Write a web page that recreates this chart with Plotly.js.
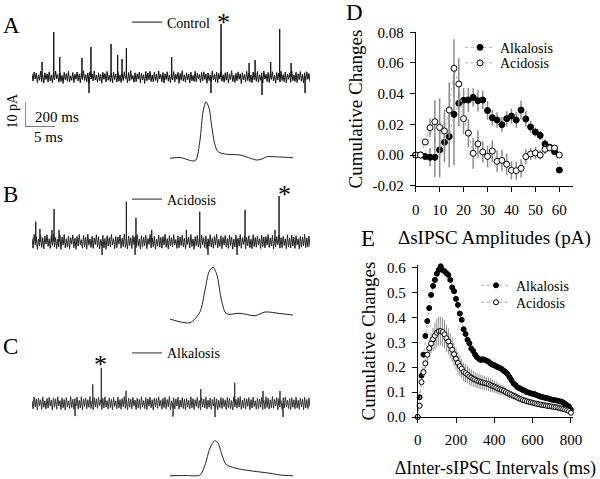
<!DOCTYPE html>
<html><head><meta charset="utf-8">
<script src="https://cdn.plot.ly/plotly-3.0.1.min.js"></script>
<style>html,body{margin:0;padding:0;background:#fff;}#chart{width:600px;height:479px;}</style>
</head><body><div id="chart"></div>
<script>
// ================= DATA =================
// Panel D: cumulative changes vs ΔsIPSC amplitude (pA)
const dAmp = [0,2,4,6,8,10,12,14,16,18,20,22,24,26,28,30,32,34,36,38,40,42,44,46,48,50,52,54,56,58,60];
const dAlk = [0,0,-0.001,-0.0015,-0.0015,0.0033,0.0083,0.012,0.0265,0.0337,0.0357,0.0359,0.0376,0.0354,0.0359,0.029,0.0243,0.0228,0.0198,0.0237,0.0254,0.0228,0.0293,0.0235,0.0183,0.015,0.0128,0.0072,0.005,0.0022,-0.0098];
const dAlkErr = [0,0,0.001,0.006,0.013,0.018,0.013,0.02,0.033,0.015,0.008,0.008,0.006,0.007,0.006,0.006,0.005,0.005,0.005,0.005,0.005,0.005,0.006,0.005,0.004,0.003,0.003,0.003,0.002,0.002,0];
const dAcid = [0,0,0.0085,0.0178,0.0217,0.018,0.0157,0.0293,0.0565,0.0463,0.0237,0.0143,0.0011,0.0072,0.002,-0.0009,0.0026,-0.0041,-0.0035,-0.006,-0.01,-0.0102,-0.0087,-0.001,0.0007,0.0013,0,0.0037,0.0046,0.0046,0];
const dAcidErr = [0,0,0,0.006,0.014,0.019,0.014,0.018,0.019,0.017,0.01,0.009,0.01,0.009,0.007,0.007,0.007,0.007,0.007,0.007,0.006,0.006,0.006,0.005,0.004,0.004,0.003,0.003,0.002,0.002,0];
const dXTicks = [0,10,20,30,40,50,60];
const dYTicks = [-0.02,0,0.02,0.04,0.06,0.08];
const dYTickText = ['-0.02','0.00','0.02','0.04','0.06','0.08'];

// Panel E: cumulative changes vs ΔInter-sIPSC interval (ms)
const eInt = [0,10,20,30,40,50,60,70,80,90,100,110,120,130,140,150,160,170,180,190,200,210,220,230,240,250,260,270,280,290,300,310,320,330,340,350,360,370,380,390,400,410,420,430,440,450,460,470,480,490,500,510,520,530,540,550,560,570,580,590,600,610,620,630,640,650,660,670,680,690,700,710,720,730,740,750,760,770,780,790,800];
const eAlk = [0,0.079,0.166,0.25,0.325,0.385,0.437,0.49,0.526,0.55,0.575,0.59,0.605,0.59,0.585,0.577,0.57,0.55,0.52,0.505,0.474,0.45,0.415,0.39,0.352,0.333,0.31,0.296,0.275,0.265,0.25,0.24,0.233,0.229,0.232,0.229,0.226,0.222,0.215,0.21,0.208,0.203,0.2,0.196,0.192,0.185,0.18,0.172,0.16,0.148,0.135,0.128,0.12,0.116,0.112,0.108,0.105,0.1,0.098,0.095,0.093,0.092,0.088,0.085,0.082,0.08,0.078,0.076,0.075,0.072,0.07,0.068,0.067,0.065,0.063,0.062,0.058,0.052,0.047,0.042,0.03];
const eAcid = [0,0.045,0.14,0.18,0.215,0.25,0.276,0.295,0.312,0.326,0.338,0.344,0.345,0.341,0.332,0.316,0.303,0.286,0.27,0.252,0.234,0.217,0.204,0.194,0.181,0.176,0.17,0.163,0.158,0.153,0.15,0.146,0.143,0.14,0.138,0.136,0.134,0.132,0.128,0.125,0.122,0.118,0.114,0.111,0.108,0.105,0.1,0.096,0.092,0.089,0.085,0.082,0.078,0.074,0.071,0.068,0.066,0.063,0.061,0.059,0.057,0.055,0.053,0.051,0.05,0.048,0.047,0.046,0.044,0.043,0.042,0.04,0.039,0.038,0.036,0.034,0.032,0.03,0.027,0.024,0.017];
const eAcidErr = [0,0.005,0.01,0.015,0.02,0.028,0.034,0.04,0.046,0.052,0.056,0.058,0.058,0.058,0.057,0.055,0.053,0.051,0.049,0.047,0.045,0.043,0.041,0.039,0.037,0.036,0.035,0.034,0.033,0.032,0.031,0.03,0.03,0.029,0.029,0.028,0.028,0.027,0.027,0.026,0.025,0.024,0.023,0.022,0.021,0.02,0.019,0.018,0.017,0.016,0.015,0.014,0.013,0.012,0.011,0.01,0.009,0.009,0.008,0.008,0.008,0.007,0.007,0.006,0.006,0.006,0.005,0.005,0.005,0.005,0.005,0.004,0.004,0.004,0.004,0.004,0.003,0.003,0.003,0.003,0.003];
const eXTicks = [0,200,400,600,800];
const eYTicks = [0,0.1,0.2,0.3,0.4,0.5,0.6];
const eYTickText = ['0.0','0.1','0.2','0.3','0.4','0.5','0.6'];
const seriesNames = ['Alkalosis','Acidosis'];

// Panels A-C: recordings (pA) over ~1853 ms; baseline noise samples + events
const traceNames = ['Control','Acidosis','Alkalosis'];
const recDuration = 1853; // ms
const noiseA = [1.2,-1.6,2.0,-0.8,1.5,-2.2,0.9,-1.3,2.3,-1.9,0.6,-2.4,1.7,-1.0,1.3,-2.0,2.1,-1.5,0.8,-2.3,
1.8,-1.2,2.4,-0.7,1.0,-2.1,1.6,-1.8,0.7,-2.6,1.9,-1.1,1.4,-1.7,2.2,-2.0,0.5,-1.3,1.8,-2.2,
1.1,-0.9,2.0,-1.6,1.2,-2.3,1.5,-1.0,2.5,-1.4,0.9,-1.9,1.6,-2.4,2.1,-0.8,1.3,-1.6,2.4,-1.2,
0.8,-2.1,1.7,-1.5,1.0,-2.5,1.9,-0.9,1.4,-2.0,2.2,-1.3,0.7,-1.8,1.6,-2.3,2.0,-1.1,1.2,-2.0,
2.3,-1.7,0.9,-2.2,1.5,-1.4,2.1,-0.8,1.1,-2.4,1.8,-1.6,2.5,-1.0,0.6,-2.1,1.7,-1.9,1.3,-0.9,
2.0,-2.3,1.4,-1.2,0.9,-2.6,2.2,-1.5,1.6,-1.1,2.3,-1.8,0.8,-2.0,1.9,-1.4,1.2,-2.2,2.4,-0.7,
1.0,-1.9,1.8,-2.4,1.3,-1.0,2.1,-1.7,0.7,-2.3,1.6,-1.2,2.2,-2.0,1.1,-0.9,1.9,-2.5,1.4,-1.3,
2.5,-1.6,0.9,-2.1,1.7,-1.1,1.2,-2.4,2.0,-1.5,0.6,-1.8,2.3,-1.9,1.5,-0.8,1.0,-2.2,1.8,-1.6,
2.1,-1.0,1.3,-2.5,1.6,-1.4,0.8,-2.0,2.4,-1.2,1.1,-1.9,1.9,-2.3,1.4,-0.7,2.2,-1.7,0.9,-2.1,
1.7,-1.3,2.0,-2.4,1.2,-1.0,2.5,-1.8,0.7,-2.2,1.5,-1.5,2.1,-0.9,1.3,-2.6,1.8,-1.2,1.0,-2.0,
2.3,-1.4,1.6,-1.9,0.8,-2.3,2.0,-1.1,1.4,-1.7,2.2,-2.1,0.9,-1.3,1.7,-2.4,2.4,-0.8,1.1,-1.8,
1.9,-2.2,1.3,-1.0,2.1,-1.6,0.7,-2.5,1.8,-1.2,1.5,-2.0,2.3,-1.4,1.0,-1.9,2.0,-2.3,1.2,-0.9,
1.6,-2.1,2.4,-1.5,0.8,-1.8,1.9,-2.2,1.3,-1.1,2.2,-1.7,1.0,-2.4,1.7,-1.3,2.1,-0.9,1.4,-2.0];
const noiseB = [1.5,-2.6,2.9,-1.2,2.0,-3.0,1.1,-1.8,2.7,-2.3,1.6,-2.9,2.2,-1.0,2.8,-1.9,1.2,-2.7,2.4,-1.5,
3.0,-2.2,1.7,-2.8,1.0,-2.0,2.6,-3.1,1.9,-1.3,2.9,-2.5,1.2,-2.1,2.3,-2.8,1.6,-0.9,2.7,-2.4,
1.4,-3.0,2.1,-1.7,2.9,-1.2,0.8,-2.6,2.5,-2.0,1.8,-2.9,3.0,-1.4,1.1,-2.3,2.2,-2.7,1.5,-1.1,
2.8,-2.2,2.0,-2.9,0.9,-1.6,2.6,-2.5,1.3,-3.0,2.4,-1.8,1.7,-2.1,2.9,-1.3,1.2,-2.8,2.1,-2.4,
1.9,-1.0,2.7,-2.6,1.4,-1.9,3.0,-2.3,1.0,-2.9,2.3,-1.5,1.6,-2.7,2.5,-1.2,2.0,-2.4,2.8,-1.7,
1.1,-2.9,2.4,-2.1,1.8,-1.6,2.6,-2.8,1.3,-1.1,2.9,-2.5,1.5,-2.0,2.2,-3.0,1.0,-1.7,2.7,-2.2,
1.7,-2.6,2.1,-1.4,3.0,-2.3,1.2,-2.9,2.4,-1.8,1.6,-2.1,2.8,-1.3,0.9,-2.7,2.3,-2.4,1.9,-1.5,
2.6,-2.0,1.4,-2.8,2.2,-1.1,1.8,-2.5,2.9,-1.9,1.1,-3.0,2.0,-1.6,2.5,-2.2,1.3,-2.6,2.7,-1.2,
1.6,-2.4,2.3,-2.9,1.2,-1.7,2.8,-2.1,1.5,-2.6,2.1,-1.4,3.0,-2.5,1.0,-1.9,2.4,-2.8,1.7,-1.3,
2.5,-2.2,1.3,-2.7,2.6,-1.5,1.9,-3.0,1.1,-2.0,2.7,-2.3,1.4,-1.8,2.9,-2.6,1.6,-1.1,2.2,-2.9,
1.8,-1.6,2.4,-2.4,1.0,-2.8,2.8,-1.9,1.7,-2.2,2.3,-1.3,1.2,-2.7,2.6,-2.0,1.9,-2.5,2.1,-1.4,
2.9,-2.3,1.5,-1.7,2.5,-2.9,1.3,-2.1,2.0,-1.2,2.7,-2.6,1.6,-2.4,2.2,-1.5,1.1,-2.8,2.8,-2.0,
1.4,-2.5,2.6,-1.8,1.9,-2.7,2.4,-1.3,1.2,-2.9,2.1,-2.2,1.8,-1.6,2.9,-2.4,1.5,-2.1,2.3,-1.9];
const noiseC = [1.0,-2.2,2.5,-1.4,1.7,-2.6,2.1,-0.9,1.4,-2.4,2.6,-1.6,0.9,-2.3,2.0,-1.9,2.4,-1.1,1.3,-2.7,
2.2,-1.5,1.8,-2.4,2.6,-1.0,1.1,-2.5,2.2,-1.8,1.5,-2.7,2.3,-1.3,1.0,-2.1,2.7,-1.7,1.6,-2.4,
1.9,-1.1,2.5,-2.3,1.2,-1.9,2.6,-2.6,1.7,-1.2,2.1,-2.2,1.4,-1.6,2.7,-2.1,0.9,-2.6,2.3,-1.4,
1.8,-2.0,2.4,-1.0,1.3,-2.5,2.0,-1.9,2.6,-1.5,1.1,-2.3,2.2,-1.7,1.6,-2.6,2.4,-1.2,1.0,-2.2,
2.5,-1.8,1.5,-2.4,1.9,-1.3,2.7,-2.0,1.2,-2.6,2.1,-1.6,1.7,-2.2,2.4,-1.0,1.3,-2.5,2.0,-1.9,
1.6,-2.3,2.6,-1.4,1.1,-2.1,2.3,-2.5,1.8,-1.1,2.5,-1.8,1.4,-2.7,2.1,-1.5,1.9,-2.0,2.6,-1.2,
1.2,-2.4,2.0,-1.7,2.4,-2.2,1.5,-1.3,2.7,-2.6,1.0,-1.9,2.2,-2.3,1.7,-1.1,2.5,-2.4,1.3,-1.6,
2.3,-2.1,1.6,-2.6,2.0,-1.4,1.2,-2.2,2.6,-1.8,1.9,-2.5,1.4,-1.2,2.4,-2.0,1.1,-2.7,2.2,-1.5,
1.7,-1.9,2.6,-2.3,1.3,-1.6,2.1,-2.4,1.5,-1.0,2.5,-2.2,1.8,-2.6,1.2,-1.7,2.3,-2.1,2.0,-1.3,
1.4,-2.5,2.4,-1.8,1.9,-2.2,1.1,-2.7,2.6,-1.4,1.6,-2.0,2.2,-1.5,2.7,-2.4,1.3,-1.9,2.1,-2.3,
1.8,-1.2,2.3,-2.6,1.5,-1.9,2.5,-1.3,1.0,-2.4,2.0,-2.1,1.7,-1.6,2.4,-2.5,1.2,-2.2,2.6,-1.7,
2.1,-2.3,1.4,-1.8,2.7,-2.0,1.6,-1.1,2.3,-2.6,1.9,-1.5,1.1,-2.4,2.2,-1.9,2.5,-1.4,1.3,-2.1,
1.9,-2.5,2.2,-1.6,1.4,-2.2,2.5,-1.8,1.2,-2.4,2.0,-1.3,1.7,-2.6,2.4,-1.9,1.5,-2.1,2.1,-1.4];
// events: time (ms) and peak (pA); negative = downward deflection
const eventTA = [67,145,185,333,380,393,527,571,600,629,931,1193,1260,1447,1487,1533,1591,1651,1727,1820];
const eventPA = [6.0,18.0,8.0,7.6,-6.4,12.0,13.2,8.8,7.2,11.6,8.0,-6.4,21.2,5.6,6.8,-7.2,6.0,19.2,5.6,-6.4];
const markedA = 12;
const eventTB = [25,53,133,147,180,467,629,687,693,798,1029,1118,1173,1367,1420,1620,1647];
const eventPB = [8.0,5.1,4.7,13.1,4.7,-5.3,16.0,-5.3,9.6,4.7,4.7,12.0,-5.3,-5.3,12.7,4.7,18.3];
const markedB = 16;
const eventTC = [287,405,462,627,940,1125,1220,1351,1540,1653,1673];
const eventPC = [-5.1,7.6,14.2,5.0,-5.3,5.7,-5.5,8.2,4.9,4.9,-5.5];
const markedC = 2;
// averaged single events (insets): time (ms), current (pA)
const insetTA = [0,1.67,3.83,4.33,5.0,5.5,6.0,6.5,7.0,7.5,8.0,9.45,11.67,14.45,15.33,16.1,18.3,20.5];
const insetPA = [-0.1,0.2,-1.2,-0.8,7.2,18.4,22.5,20,12,5.2,2.5,1.5,1.2,-0.8,-0.4,0.5,0.4,0.1];
const insetTB = [0,3.33,5,5.83,6.5,7.17,7.83,8.5,9.17,9.67,11.67,14.17,15.83,18.33,20.5];
const insetPB = [-1.2,-2.7,1.7,10.4,17.6,19.5,16.4,7.2,1.6,0.7,1.1,0.1,1.6,1.0,0.4];
const insetTC = [0,2.5,5,5.83,6.67,7.45,8,8.67,9.33,10.83,12.5,15,16.67,18.33,20.5];
const insetPC = [-0.1,0,0.2,4.2,11,13.9,13,8.2,4.5,3.0,2.2,1.4,0.9,0.2,-0.1];
// scale bar: 200 ms (recording) / 5 ms (inset) by 10 pA
const scaleBarT = [0,0,200];
const scaleBarP = [10,0,0];

// ================= LAYOUT HELPERS =================
const W = 600, H = 479;
const SERIF = 'Liberation Serif';
const xdom = (a,b) => [a/W, b/W];
const ydom = (top,bot) => [1-bot/H, 1-top/H];
const PX_PER_PA = 2.5;
function yBox(top, bot, basePx){
  return {domain: ydom(top,bot), range:[-(bot-basePx)/PX_PER_PA, (basePx-top)/PX_PER_PA]};
}
function hidden(o, anchor){ return Object.assign({visible:false, fixedrange:true, anchor:anchor, showgrid:false, zeroline:false}, o); }

function buildRecording(noise, evT, evP){
  const pts = [];
  const n = noise.length;
  for (let i=0;i<n;i++) pts.push([i*recDuration/(n-1), noise[i], 0]);
  for (let k=0;k<evT.length;k++){
    pts.push([evT[k], 0, 1]); pts.push([evT[k], evP[k], 2]); pts.push([evT[k], 0, 3]);
  }
  pts.sort((a,b)=> a[0]-b[0] || a[2]-b[2]);
  return {x: pts.map(p=>p[0]), y: pts.map(p=>p[1])};
}

const traces = [];
// ---- Panel D ----
const lineDot = {color:'#b0b0b0', width:1, dash:'dot'};
traces.push({x:dAmp, y:dAlk, name:seriesNames[0], mode:'lines+markers', xaxis:'x', yaxis:'y', legend:'legend', cliponaxis:false,
  line:lineDot, marker:{size:6, color:'#000', line:{color:'#000', width:1}},
  error_y:{type:'data', array:dAlkErr, visible:true, color:'#8c8c8c', thickness:1.5, width:0}});
traces.push({x:dAmp, y:dAcid, name:seriesNames[1], mode:'lines+markers', xaxis:'x', yaxis:'y', legend:'legend2', cliponaxis:false,
  line:lineDot, marker:{size:6, color:'#fff', line:{color:'#000', width:1}},
  error_y:{type:'data', array:dAcidErr, visible:true, color:'#8c8c8c', thickness:1.5, width:0}});
// ---- Panel E ----
traces.push({x:eInt, y:eAlk, name:seriesNames[0], mode:'lines+markers', xaxis:'x2', yaxis:'y2', legend:'legend3', cliponaxis:false,
  line:lineDot, marker:{size:5, color:'#000', line:{color:'#000', width:1}}});
traces.push({x:eInt, y:eAcid, name:seriesNames[1], mode:'lines+markers', xaxis:'x2', yaxis:'y2', legend:'legend4', cliponaxis:false,
  line:lineDot, marker:{size:5, color:'#fff', line:{color:'#000', width:1}},
  error_y:{type:'data', array:eAcidErr, visible:true, color:'#8c8c8c', thickness:1, width:0}});
// ---- Panels A-C recordings ----
const recs = [
  {noise:noiseA, t:eventTA, p:eventPA, xa:'x3', ya:'y3', lg:'legend5', color:'#111'},
  {noise:noiseB, t:eventTB, p:eventPB, xa:'x5', ya:'y5', lg:'legend6', color:'#222'},
  {noise:noiseC, t:eventTC, p:eventPC, xa:'x7', ya:'y7', lg:'legend7', color:'#333'}
];
recs.forEach((r,i)=>{
  const d = buildRecording(r.noise, r.t, r.p);
  traces.push({x:d.x, y:d.y, name:traceNames[i], mode:'lines', xaxis:r.xa, yaxis:r.ya, legend:r.lg,
    line:{color:r.color, width:1, simplify:false}, hoverinfo:'skip'});
});
const insets = [[insetTA,insetPA,'x4','y4'],[insetTB,insetPB,'x6','y6'],[insetTC,insetPC,'x8','y8']];
insets.forEach(s=>{
  traces.push({x:s[0], y:s[1], mode:'lines', xaxis:s[2], yaxis:s[3], showlegend:false,
    line:{color:'#222', width:1, shape:'spline', smoothing:0.8}, hoverinfo:'skip'});
});
traces.push({x:scaleBarT, y:scaleBarP, mode:'lines', xaxis:'x9', yaxis:'y9', showlegend:false,
  line:{color:'#222', width:1}, hoverinfo:'skip'});

// ---- axes ----
const tickFont = {family:SERIF, size:15, color:'#000'};
const titleFont = {family:SERIF, size:19, color:'#000'};
const axCommon = {showline:true, linecolor:'#000', linewidth:1, ticks:'outside', ticklen:5, tickwidth:1, tickcolor:'#000',
  showgrid:false, zeroline:false, tickfont:tickFont, automargin:false, fixedrange:true};

const layout = {
  width:W, height:H, margin:{l:0,r:0,t:0,b:0}, paper_bgcolor:'#fff', plot_bgcolor:'rgba(0,0,0,0)',
  font:{family:SERIF, color:'#000'},
  xaxis: Object.assign({}, axCommon, {domain:xdom(415.7,573), range:[0,65.7], anchor:'y', tickvals:dXTicks,
    ticklabelstandoff:5, title:{text:'ΔsIPSC Amplitudes (pA)', font:titleFont, standoff:13}}),
  yaxis: Object.assign({}, axCommon, {domain:ydom(32.3,185.7), range:[-0.02,0.08], anchor:'x', tickvals:dYTicks, ticktext:dYTickText,
    ticklabelstandoff:3, title:{text:'Cumulative Changes', font:titleFont, standoff:4}}),
  xaxis2: Object.assign({}, axCommon, {domain:xdom(417.7,573), range:[0,811], anchor:'y2', tickvals:eXTicks,
    ticklabelstandoff:4, title:{text:'ΔInter-sIPSC Intervals (ms)', font:{family:SERIF, size:18, color:'#000'}, standoff:14}}),
  yaxis2: Object.assign({}, axCommon, {domain:ydom(265,417), range:[0,0.61], anchor:'x2', tickvals:eYTicks, ticktext:eYTickText,
    ticklabelstandoff:3, title:{text:'Cumulative Changes', font:titleFont, standoff:6}}),
  xaxis3: hidden({domain:xdom(32,310), range:[0,recDuration]}, 'y3'),
  yaxis3: hidden(yBox(12,100,77), 'x3'),
  xaxis4: hidden({domain:xdom(170,293), range:[0,20.5]}, 'y4'),
  yaxis4: hidden(yBox(95,165,158), 'x4'),
  xaxis5: hidden({domain:xdom(32,310), range:[0,recDuration]}, 'y5'),
  yaxis5: hidden(yBox(185,262,241.7), 'x5'),
  xaxis6: hidden({domain:xdom(170,293), range:[0,20.5]}, 'y6'),
  yaxis6: hidden(yBox(260,330,316), 'x6'),
  xaxis7: hidden({domain:xdom(32,310), range:[0,recDuration]}, 'y7'),
  yaxis7: hidden(yBox(345,425,403.3), 'x7'),
  xaxis8: hidden({domain:xdom(170,293), range:[0,20.5]}, 'y8'),
  yaxis8: hidden(yBox(435,479,475.5), 'x8'),
  xaxis9: hidden({domain:xdom(25,55), range:[0,200]}, 'y9'),
  yaxis9: hidden({domain:ydom(101.7,126.7), range:[0,10]}, 'x9'),
  annotations: [],
  showlegend:true
};
function legendAt(px, py){
  return {x:px/W, y:1-py/H, xanchor:'left', yanchor:'middle', bgcolor:'rgba(0,0,0,0)', borderwidth:0,
    font:{family:SERIF, size:14, color:'#000'}};
}
layout.legend  = legendAt(460, 47.7);
layout.legend2 = legendAt(460, 63.3);
layout.legend3 = legendAt(476, 285.7);
layout.legend4 = legendAt(476, 302.7);
layout.legend5 = legendAt(127, 22.5);
layout.legend6 = legendAt(127, 199.5);
layout.legend7 = legendAt(127, 353.3);

const ann = layout.annotations;
function paperText(text, px, py, size, extra){
  ann.push(Object.assign({text:text, x:px/W, y:1-py/H, xref:'paper', yref:'paper', showarrow:false,
    xanchor:'center', yanchor:'middle', font:{family:SERIF, size:size, color:'#000'}}, extra||{}));
}
paperText('A', 11, 25, 23);
paperText('B', 10, 194, 23);
paperText('C', 10, 346, 23);
paperText('D', 354, 12, 23);
paperText('E', 368, 238, 23);
paperText('10 pA', 11.5, 111, 14, {textangle:-90});
paperText('200 ms', 57, 117, 15);
paperText('5 ms', 48, 137, 15);
// asterisks over the marked events
[[eventTA,eventPA,markedA,'x3','y3',2.5,-15],[eventTB,eventPB,markedB,'x5','y5',5.5,-15],[eventTC,eventPC,markedC,'x7','y7',-1.3,-13]].forEach(a=>{
  ann.push({text:'*', x:a[0][a[2]], y:a[1][a[2]], xref:a[3], yref:a[4], showarrow:false, xanchor:'center', yanchor:'bottom',
    xshift:a[5], yshift:a[6], font:{family:SERIF, size:26, color:'#000'}});
});

Plotly.newPlot('chart', traces, layout, {staticPlot:true, displayModeBar:false});
</script></body></html>
